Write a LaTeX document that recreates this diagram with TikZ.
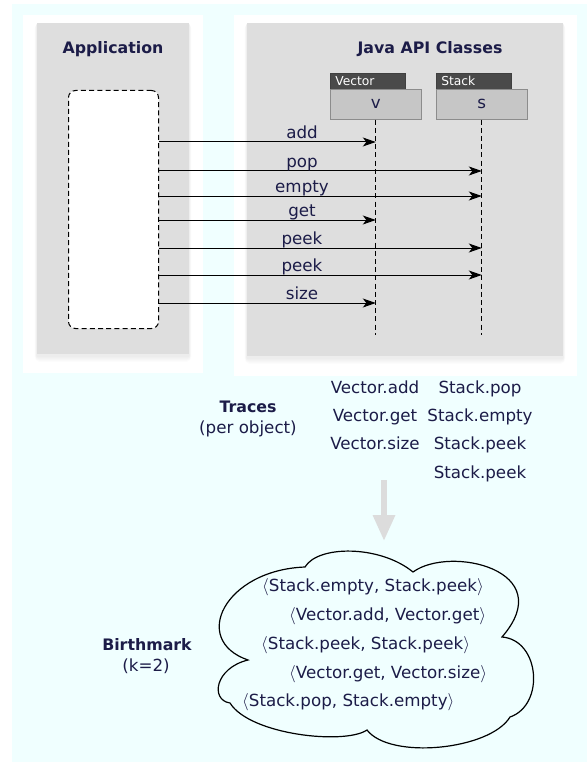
\documentclass[tikz,border=0pt]{standalone}
\usepackage{fontspec}
\setmainfont{DejaVu Sans}
\usetikzlibrary{arrows.meta}

\definecolor{bgcyan}{HTML}{F0FFFF}
\definecolor{panel}{HTML}{DEDEDE}
\definecolor{ink}{RGB}{28,28,72}
\definecolor{tabdark}{HTML}{4A4A4A}
\definecolor{bodygray}{HTML}{C6C6C6}
\definecolor{bigarrow}{HTML}{DCDCDC}

\begin{document}
\begin{tikzpicture}[x=1pt,y=-1pt,
  lbl/.style={font=\fontsize{16.7}{19}\selectfont, text=ink, inner sep=0pt},
  ttl/.style={font=\fontsize{15.8}{18}\selectfont\bfseries, text=ink, inner sep=0pt},
  tabbox/.style={draw=black!75, fill=tabdark, text=white, anchor=north west,
    minimum height=16pt, inner xsep=5pt, inner ysep=0pt, text width=65pt,
    font=\fontsize{12.3}{13}\selectfont, line width=0.6pt},
  objbox/.style={draw=black!45, fill=bodygray, text=ink, anchor=north west,
    minimum height=30pt, inner sep=0pt, font=\fontsize{16.7}{19}\selectfont, line width=0.6pt},
  dashline/.style={dash pattern=on 5pt off 3.2pt, line width=1pt},
  msg/.style={line width=1pt, -{Stealth[length=13pt,width=9pt,inset=3.5pt]}},
  cloudline/.style={line width=1.2pt, fill=bgcyan},
]
\useasboundingbox (0,0) rectangle (587,762);

% backdrop and panels
\fill[bgcyan] (12,4) rectangle (587,762);
\fill[white] (23,15) rectangle (203,373);
\fill[white] (234,15) rectangle (577,376);
\foreach \i in {1,...,6}{
  \fill[black,opacity=0.012,rounded corners=\i pt] (37-0.4*\i,23) rectangle (189+0.4*\i,356+\i);
  \fill[black,opacity=0.012,rounded corners=\i pt] (247-0.4*\i,23) rectangle (563+0.4*\i,358+\i);
}
\fill[panel] (37,23) rectangle (189,354);
\fill[panel] (247,23) rectangle (563,356);

% panel titles
\node[ttl, anchor=base] (apptitle) at (113,54) {Application};
\node[ttl, anchor=base] (javatitle) at (430,54) {Java API Classes};

% application activation box
\node[draw, dashline, fill=white, rounded corners=7pt, anchor=north west,
      minimum width=90pt, minimum height=238pt, inner sep=0pt] (app) at (68,90) {};

% objects
\node[tabbox] (vtab) at (330,73) {Vector};
\node[objbox, minimum width=91pt] (vbody) at (330,89) {v};
\node[tabbox] (stab) at (436,73) {Stack};
\node[objbox, minimum width=91pt] (sbody) at (436,89) {s};

% lifelines
\coordinate (vend) at (vbody.south |- 0,335);
\coordinate (send) at (sbody.south |- 0,335);
\draw[dashline] (vbody.south) -- (vend);
\draw[dashline] (sbody.south) -- (send);

% messages
\foreach \y/\t/\o [count=\k] in {142/add/vbody, 171/pop/sbody, 196/empty/sbody,
    220/get/vbody, 248/peek/sbody, 275/peek/sbody, 303/size/vbody}{
  \draw[msg] (app.east |- 0,\y) -- (\o.south |- 0,\y);
  \node[lbl, anchor=base] (msg\k) at (302,\y-3.5) {\t};
}

% traces per object
\node[ttl, anchor=base] (traces) at (248,412.7) {Traces};
\node[lbl, anchor=base] (perobj) at (248,433) {(per object)};
\node[lbl, anchor=base] (tv1) at (375,393.3) {Vector.add};
\node[lbl, anchor=base] (tv2) at (375,421.6) {Vector.get};
\node[lbl, anchor=base] (tv3) at (375,449.9) {Vector.size};
\node[lbl, anchor=base] (ts1) at (480,393.3) {Stack.pop};
\node[lbl, anchor=base] (ts2) at (480,421.6) {Stack.empty};
\node[lbl, anchor=base] (ts3) at (480,449.9) {Stack.peek};
\node[lbl, anchor=base] (ts4) at (480,478.2) {Stack.peek};

% derivation arrow
\coordinate (dtop) at (384,480);
\coordinate (dtip) at (384,541);
\draw[bigarrow, line width=6pt, -{Triangle[length=26pt,width=21pt]}] (dtop) -- (dtip);

% birthmark cloud
\draw[cloudline] (305,567)
  .. controls (318,545) and (380,545) .. (413,572)
  .. controls (450,545) and (560,570) .. (502,637)
  .. controls (540,640) and (545,705) .. (510,717)
  .. controls (490,750) and (390,760) .. (367,730)
  .. controls (345,745) and (250,735) .. (230,703)
  .. controls (210,700) and (215,668) .. (248,660)
  .. controls (190,640) and (225,570) .. (305,567) -- cycle;

\node[lbl, anchor=base west] (b1) at (262,591.7) {$\langle$Stack.empty, Stack.peek$\rangle$};
\node[lbl, anchor=base west] (b2) at (289,620.5) {$\langle$Vector.add, Vector.get$\rangle$};
\node[lbl, anchor=base west] (b3) at (261,649.3) {$\langle$Stack.peek, Stack.peek$\rangle$};
\node[lbl, anchor=base west] (b4) at (289,678.1) {$\langle$Vector.get, Vector.size$\rangle$};
\node[lbl, anchor=base west] (b5) at (242,706.8) {$\langle$Stack.pop, Stack.empty$\rangle$};

\node[ttl, anchor=base] (bm) at (147,650) {Birthmark};
\node[lbl, anchor=base] (bk) at (146,671.7) {(k=2)};
\end{tikzpicture}
\end{document}
